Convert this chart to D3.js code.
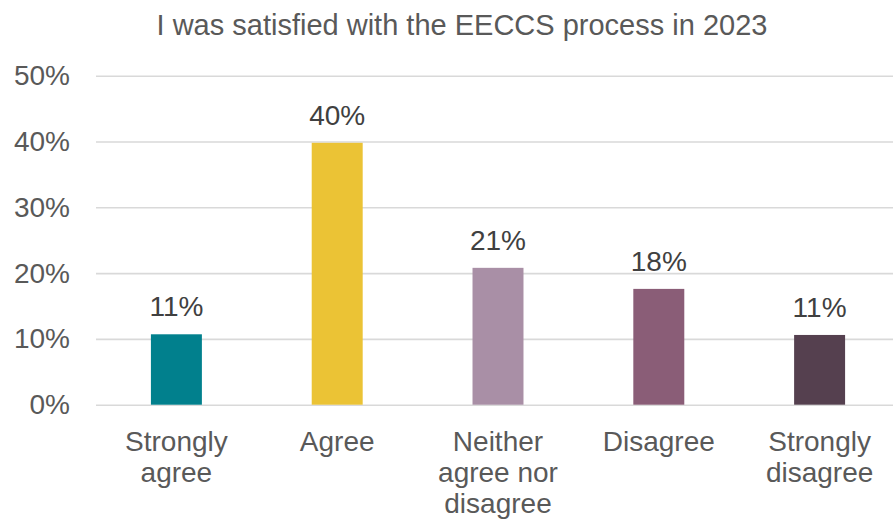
<!DOCTYPE html>
<html>
<head>
<meta charset="utf-8">
<script src="https://cdn.jsdelivr.net/npm/d3@7"></script>
<style>
  html, body { margin: 0; padding: 0; background: #ffffff; }
  svg { display: block; }
  text { font-family: "Liberation Sans", Arial, sans-serif; }
</style>
</head>
<body>
<svg id="chart" width="893" height="520"></svg>
<script>
// Survey responses: share of respondents per answer
const categories = ["Strongly agree", "Agree", "Neither agree nor disagree", "Disagree", "Strongly disagree"];
const categoryLines = [["Strongly", "agree"], ["Agree"], ["Neither", "agree nor", "disagree"], ["Disagree"], ["Strongly", "disagree"]];
const values = [0.107, 0.398, 0.208, 0.176, 0.106];
const barColors = ["#01808D", "#EBC335", "#A98FA6", "#8A5D77", "#55404F"];
const yTicks = [0, 0.1, 0.2, 0.3, 0.4, 0.5];
const title = "I was satisfied with the EECCS process in 2023";

const svg = d3.select("#chart");
const W = 893, H = 520;
const plot = { left: 96, right: 900, top: 75.7, bottom: 404.7 };

const x = d3.scaleBand()
  .domain(categories)
  .range([plot.left, plot.right])
  .paddingInner(0.683)
  .paddingOuter(0.3415);

const y = d3.scaleLinear()
  .domain([0, 0.5])
  .range([plot.bottom, plot.top]);

const pct = d3.format(".0%");

// Title
svg.append("text")
  .attr("x", 462)
  .attr("y", 35.3)
  .attr("text-anchor", "middle")
  .attr("font-size", 29)
  .attr("fill", "#595959")
  .text(title);

// Horizontal gridlines and y-axis labels
const yAxis = d3.axisLeft(y)
  .tickValues(yTicks)
  .tickFormat(pct)
  .tickSize(-(W - plot.left))
  .tickPadding(26);

const gy = svg.append("g")
  .attr("transform", `translate(${plot.left},0)`)
  .call(yAxis);
gy.select(".domain").remove();
gy.selectAll(".tick line")
  .attr("stroke", "#D9D9D9")
  .attr("stroke-width", 1.6);
gy.selectAll(".tick text")
  .attr("font-size", 28)
  .attr("fill", "#595959")
  .attr("font-family", "Liberation Sans, Arial, sans-serif");

// Bars
svg.append("g").selectAll("rect")
  .data(categories)
  .join("rect")
  .attr("x", d => x(d))
  .attr("width", x.bandwidth())
  .attr("y", (d, i) => y(values[i]))
  .attr("height", (d, i) => y(0) - y(values[i]))
  .attr("fill", (d, i) => barColors[i]);

// Value labels above bars
svg.append("g").selectAll("text")
  .data(categories)
  .join("text")
  .attr("x", d => x(d) + x.bandwidth() / 2)
  .attr("y", (d, i) => y(values[i]) - 18)
  .attr("text-anchor", "middle")
  .attr("font-size", 28)
  .attr("fill", "#404040")
  .text((d, i) => pct(values[i]));

// Category labels, wrapped onto several lines
const cat = svg.append("g").selectAll("text")
  .data(categories)
  .join("text")
  .attr("x", d => x(d) + x.bandwidth() / 2)
  .attr("y", 451)
  .attr("text-anchor", "middle")
  .attr("font-size", 28)
  .attr("fill", "#595959");
cat.each(function (d, i) {
  const t = d3.select(this);
  categoryLines[i].forEach((line, k) => {
    t.append("tspan")
      .attr("x", x(d) + x.bandwidth() / 2)
      .attr("dy", k === 0 ? 0 : 31)
      .text(line);
  });
});
</script>
</body>
</html>
